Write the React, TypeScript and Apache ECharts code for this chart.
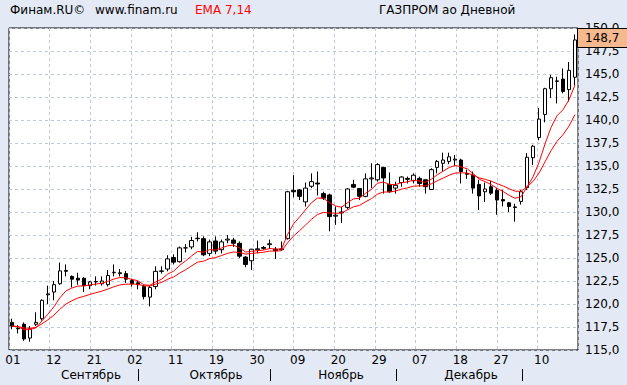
import React, { useEffect, useRef } from "react";
import * as echarts from "echarts";

// Trading days, 01.09.2017 – 17.01.2018
const dates = [
  "01.09", "04.09", "05.09", "06.09", "07.09", "08.09", "11.09", "12.09", "13.09", "14.09", "15.09",
  "18.09", "19.09", "20.09", "21.09", "22.09", "25.09", "26.09", "27.09", "28.09", "29.09",
  "02.10", "03.10", "04.10", "05.10", "06.10", "09.10", "10.10", "11.10", "12.10", "13.10", "16.10",
  "17.10", "18.10", "19.10", "20.10", "23.10", "24.10", "25.10", "26.10", "27.10", "30.10", "31.10",
  "01.11", "02.11", "03.11", "07.11", "08.11", "09.11", "10.11", "13.11", "14.11", "15.11", "16.11",
  "17.11", "20.11", "21.11", "22.11", "23.11", "24.11", "27.11", "28.11", "29.11", "30.11",
  "01.12", "04.12", "05.12", "06.12", "07.12", "08.12", "11.12", "12.12", "13.12", "14.12", "15.12",
  "18.12", "19.12", "20.12", "21.12", "22.12", "25.12", "26.12", "27.12", "28.12", "29.12",
  "03.01", "04.01", "05.01", "09.01", "10.01", "11.01", "12.01", "15.01", "16.01", "17.01",
];

const opens = [
  118.0, 117.35, 117.8, 116.3, 117.8, 118.4, 121.0, 121.3, 122.2, 123.55,
  123.0, 122.8, 122.8, 122.0, 122.4, 122.2, 122.1, 123.4, 123.3, 123.3,
  122.55, 122.3, 121.9, 120.75, 121.9, 123.55, 123.8, 125.05, 124.6, 126.1,
  126.2, 127.1, 127.1, 125.5, 126.85, 125.9, 126.95, 126.95, 126.6, 125.1,
  124.7, 125.9, 126.15, 126.45, 125.95, 125.9, 127.1, 132.35, 132.4, 131.1,
  132.8, 133.15, 132.0, 131.85, 129.55, 129.9, 130.5, 133.0, 132.55, 131.7,
  133.6, 133.5, 134.85, 133.0, 132.6, 133.2, 133.65, 133.4, 133.65, 133.5,
  132.45, 134.85, 135.3, 135.5, 135.65, 135.65, 134.2, 134.0, 133.0, 132.2,
  132.75, 132.35, 131.35, 131.0, 130.55, 131.15, 132.65, 135.9, 138.1, 140.6,
  143.4, 144.2, 144.45, 143.3, 144.65,
];
const highs = [
  118.4, 117.7, 118.0, 117.6, 119.1, 120.5, 122.0, 122.5, 124.5, 124.3,
  123.1, 123.4, 122.9, 122.5, 123.0, 123.0, 123.7, 124.3, 123.8, 123.6,
  122.75, 122.5, 122.1, 122.0, 124.1, 124.1, 125.3, 125.4, 126.25, 126.5,
  127.3, 127.8, 127.35, 127.0, 127.35, 127.0, 127.5, 127.2, 126.8, 125.2,
  126.0, 126.9, 126.3, 127.0, 126.2, 126.8, 132.3, 134.0, 132.5, 133.2,
  134.2, 134.4, 132.2, 132.0, 130.6, 130.6, 132.6, 133.5, 132.6, 134.2,
  135.3, 135.3, 134.9, 134.3, 133.3, 133.9, 133.85, 134.2, 133.85, 133.55,
  134.75, 135.65, 136.45, 136.45, 136.2, 135.8, 134.6, 134.4, 133.5, 133.2,
  133.4, 132.6, 132.4, 131.1, 130.9, 132.4, 136.4, 137.3, 141.3, 143.5,
  144.9, 144.7, 145.6, 146.3, 149.3,
];
const lows = [
  117.25, 116.8, 116.0, 115.9, 117.6, 118.2, 120.0, 120.4, 122.1, 123.0,
  121.8, 122.1, 121.3, 121.6, 122.0, 122.0, 121.9, 123.0, 123.0, 122.3,
  121.9, 121.6, 120.5, 119.75, 121.6, 123.3, 123.55, 124.3, 124.5, 125.6,
  125.95, 126.8, 125.2, 125.2, 125.4, 125.5, 126.6, 126.2, 125.0, 124.0,
  123.7, 125.5, 125.9, 126.0, 124.9, 125.8, 127.0, 131.6, 131.3, 130.6,
  132.6, 131.8, 131.3, 127.9, 128.6, 128.8, 130.3, 132.6, 131.3, 131.6,
  132.6, 133.3, 132.0, 132.1, 132.0, 132.75, 133.1, 133.1, 132.75, 132.0,
  132.45, 134.2, 134.4, 135.2, 135.0, 133.1, 133.6, 132.0, 130.2, 131.1,
  131.85, 129.7, 130.6, 130.0, 128.95, 130.8, 132.4, 135.1, 137.8, 139.75,
  142.4, 141.8, 142.9, 142.0, 143.8,
];
const closes = [
  117.6, 117.3, 116.2, 117.3, 118.0, 120.4, 121.1, 122.1, 123.6, 123.65,
  122.7, 122.6, 122.0, 122.4, 122.45, 122.5, 123.1, 123.45, 123.4, 122.7,
  122.2, 122.1, 120.8, 121.8, 123.55, 123.6, 124.9, 124.55, 126.1, 126.1,
  126.9, 127.15, 125.35, 126.75, 125.75, 126.75, 127.05, 126.6, 125.2, 124.3,
  125.95, 126.0, 126.05, 126.55, 125.8, 126.0, 132.2, 132.2, 131.7, 132.6,
  133.3, 133.05, 131.5, 129.5, 129.65, 130.0, 132.5, 132.7, 131.7, 133.6,
  133.7, 135.15, 133.7, 132.2, 132.9, 133.8, 133.55, 134.0, 133.1, 132.75,
  134.6, 135.5, 135.65, 136.0, 135.75, 134.4, 134.1, 132.6, 131.75, 132.5,
  132.05, 131.3, 131.2, 130.6, 130.5, 132.2, 135.95, 137.15, 140.1, 143.4,
  144.6, 144.25, 143.1, 145.4, 148.7,
];

const tickLabels = ["01", "12", "21", "02", "11", "19", "30", "09", "20", "29", "07", "18", "27", "10"];
const monthLabels = ["Сентябрь", "Октябрь", "Ноябрь", "Декабрь"];
const emaPeriods = [7, 14];

function ema(values: number[], period: number): number[] {
  const k = 2 / (period + 1);
  const out: number[] = [];
  let prev = values[0];
  values.forEach((v, i) => {
    prev = i === 0 ? v : v * k + prev * (1 - k);
    out.push(Math.round(prev * 1000) / 1000);
  });
  return out;
}

const FONT = '"DejaVu Sans", Verdana, sans-serif';
const BG = "#E4EAF5";
const GRID_COLOR = "#BFC8DB";

// layout
const GRID_LEFT = 9;
const GRID_TOP = 28;
const GRID_W = 569;
const GRID_H = 322;
const TICK_PX = 40.67;

const monthCenters = [91, 216, 341, 471];
const monthSeps = [138, 270, 396, 522];

export default function App() {
  const ref = useRef<HTMLDivElement>(null);

  useEffect(() => {
    if (!ref.current) return;
    const chart = echarts.init(ref.current, undefined, { renderer: "svg" });
    const candles = dates.map((_, i) => [opens[i], closes[i], lows[i], highs[i]]);
    const last = closes[closes.length - 1];
    const fmt = (v: number) => v.toFixed(1).replace(".", ",");

    const graphic: any[] = [
      { type: "text", x: 10, y: 9.5, style: { text: "Финам.RU©", fill: "#000", font: `12px ${FONT}`, verticalAlign: "middle" } },
      { type: "text", x: 95, y: 9.5, style: { text: "www.finam.ru", fill: "#000", font: `12px ${FONT}`, verticalAlign: "middle" } },
      { type: "text", x: 195, y: 9.5, style: { text: `EMA ${emaPeriods.join(",")}`, fill: "#f00", font: `12px ${FONT}`, verticalAlign: "middle" } },
      { type: "text", x: 379, y: 9.5, style: { text: "ГАЗПРОМ ао Дневной", fill: "#000", font: `12px ${FONT}`, verticalAlign: "middle" } },
    ];
    monthLabels.forEach((m, i) => {
      graphic.push({
        type: "text",
        x: monthCenters[i],
        y: 375,
        style: { text: m, fill: "#000", font: `12px ${FONT}`, align: "center", verticalAlign: "middle" },
      });
      graphic.push({
        type: "line",
        shape: { x1: monthSeps[i] + 0.5, y1: 369, x2: monthSeps[i] + 0.5, y2: 381 },
        style: { stroke: "#000", lineWidth: 1 },
      });
    });

    chart.setOption({
      animation: false,
      backgroundColor: BG,
      textStyle: { fontFamily: FONT, fontSize: 12 },
      grid: {
        left: GRID_LEFT,
        top: GRID_TOP,
        width: GRID_W,
        height: GRID_H,
        show: true,
        backgroundColor: "#fff",
        borderColor: "#000",
        borderWidth: 1,
      },
      xAxis: [
        {
          type: "category",
          data: dates,
          position: "bottom",
          boundaryGap: true,
          axisLine: { show: false },
          axisTick: { show: false },
          axisLabel: { show: false },
          splitLine: { show: false },
        },
        {
          type: "value",
          position: "bottom",
          min: 0,
          max: GRID_W / TICK_PX,
          interval: 1,
          axisLine: { show: false },
          axisTick: { show: false },
          axisLabel: {
            margin: 4,
            color: "#000",
            fontSize: 12,
            fontFamily: FONT,
            padding: [0, 0, 0, 8],
            showMaxLabel: false,
            formatter: (v: number) => (Number.isInteger(v) && tickLabels[v] !== undefined ? tickLabels[v] : ""),
          },
          splitLine: { show: true, lineStyle: { color: GRID_COLOR, type: [3, 3], width: 1 } },
        },
      ],
      yAxis: {
        type: "value",
        position: "right",
        min: 115,
        max: 150,
        interval: 2.5,
        axisLine: { show: false },
        axisTick: { show: false },
        axisLabel: { margin: 7, color: "#000", fontSize: 12, fontFamily: FONT, formatter: (v: number) => fmt(v) },
        splitLine: { show: true, lineStyle: { color: GRID_COLOR, type: [3, 3], width: 1 } },
      },
      series: [
        {
          type: "candlestick",
          xAxisIndex: 0,
          yAxisIndex: 0,
          data: candles,
          barWidth: 4,
          clip: false,
          itemStyle: {
            color: "#fff",
            color0: "#000",
            borderColor: "#000",
            borderColor0: "#000",
            borderColorDoji: "#000",
            borderWidth: 1,
          },
          markLine: {
            silent: true,
            symbol: ["none", "none"],
            lineStyle: { color: "rgba(0,0,0,0)", width: 0, type: "solid" },
            label: {
              show: true,
              position: "end",
              distance: 0,
              formatter: () => fmt(last),
              color: "#000",
              opacity: 1,
              fontSize: 12,
              fontFamily: FONT,
              backgroundColor: "#F6B98E",
              borderColor: "#000",
              borderWidth: 1,
              padding: [3, 9, 3, 7],
              offset: [0, -2],
            },
            emphasis: { disabled: true },
            data: [{ yAxis: last }],
          },
        },
        ...emaPeriods.map((p) => ({
          type: "line",
          xAxisIndex: 0,
          yAxisIndex: 0,
          data: ema(closes, p),
          symbol: "none",
          showSymbol: false,
          lineStyle: { color: "#f00", width: 1 },
          z: 3,
        })),
      ],
      graphic,
    });

    return () => chart.dispose();
  }, []);

  return (
    <div
      ref={ref}
      style={{ position: "fixed", left: 0, top: 0, width: 627, height: 385, background: BG }}
    />
  );
}
